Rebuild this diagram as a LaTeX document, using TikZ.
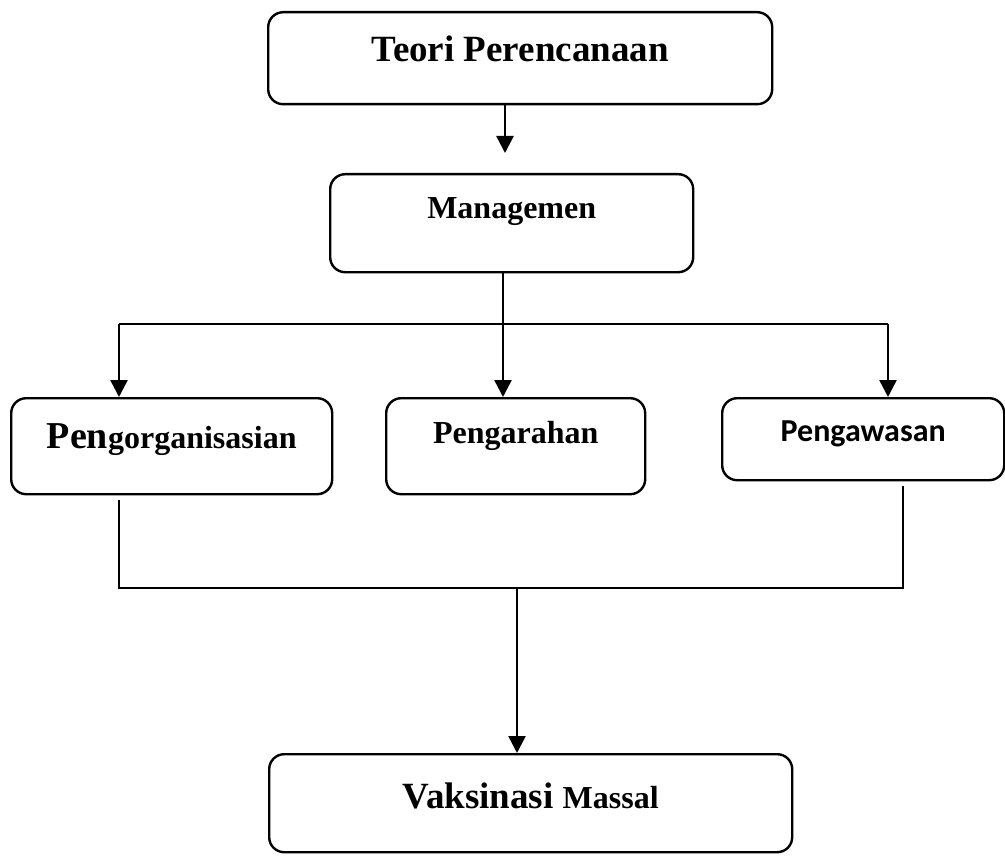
\documentclass[tikz,border=0pt]{standalone}
\usepackage{fontspec}
\setmainfont{Liberation Serif}
\newfontfamily\calibri{Carlito}
\usetikzlibrary{arrows.meta,calc}
\tikzset{
  box/.style={draw, line width=2.4pt, rounded corners=15pt, inner sep=0pt, anchor=north west, font=\bfseries},
  conn/.style={line width=2.5pt},
  arr/.style={conn, -{Triangle[length=17pt,width=17pt]}}
}
\newcommand{\fsz}[1]{\fontsize{#1}{#1}\selectfont}
\begin{document}
\begin{tikzpicture}[x=1pt,y=-1pt]
\useasboundingbox (0,0) rectangle (1005,856);
% boxes
\node[box, minimum width=504pt, text height=49pt, text depth=43pt] (teori) at (267,11) {\fsz{37}Teori Perencanaan};
\node[box, minimum width=363pt, text height=44pt, text depth=54pt] (mgmt) at (329,173) {\fsz{32}Managemen};
\node[box, minimum width=321pt, text height=50pt, text depth=46pt] (org) at (10,397) {{\fsz{38}Pen}{\fsz{32}gorganisasian}};
\node[box, minimum width=259pt, text height=45pt, text depth=51pt] (arah) at (385,397) {\fsz{32}Pengarahan};
\node[box, minimum width=282pt, text height=43pt, text depth=39pt] (awas) at (721,397) {\calibri\fsz{32}Pengawasan};
\node[box, minimum width=523pt, text height=54pt, text depth=44pt] (vaks) at (268,753) {{\fsz{37}Vaksinasi }{\fsz{32}Massal}};
% coordinates
\coordinate (a1) at (505,153);
\coordinate (mx) at (503,324);
\coordinate (hl) at (119,324);
\coordinate (hr) at (888,324);
\coordinate (b1) at (119,588);
\coordinate (b2) at (903,588);
\coordinate (bm) at (517,588);
% connectors
\draw[arr] (teori.south -| a1) -- (a1);
\draw[arr] (mgmt.south -| mx) -- (arah.north -| mx);
\draw[conn] (hl) -- (hr);
\draw[arr] (hl) -- (org.north -| hl);
\draw[arr] (hr) -- (awas.north -| hr);
\draw[conn] ($(org.south -| b1)+(0,5)$) -- (b1) -- (b2) -- ($(awas.south -| b2)+(0,5)$);
\draw[arr] (bm) -- (vaks.north -| bm);
\end{tikzpicture}
\end{document}
